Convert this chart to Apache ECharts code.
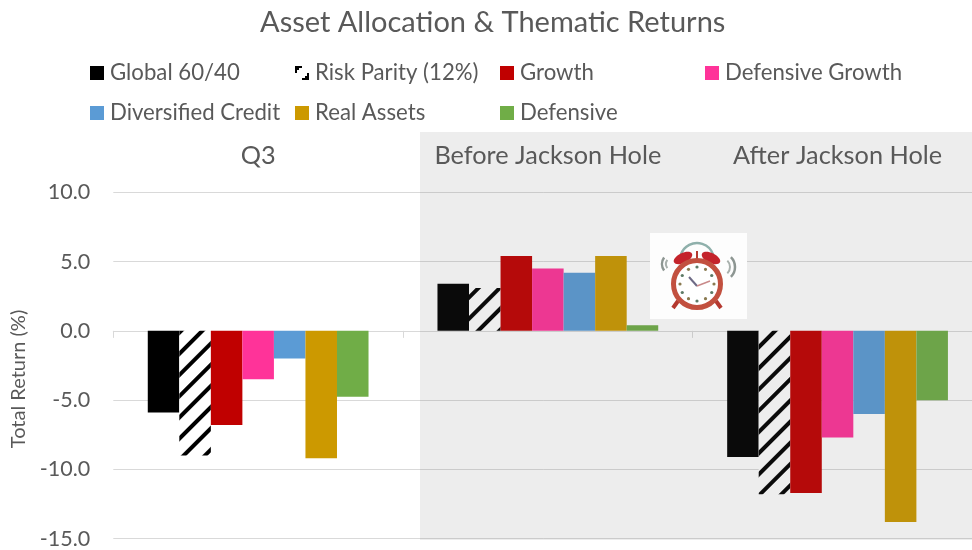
<!DOCTYPE html>
<html>
<head>
<meta charset="utf-8">
<style>html,body{margin:0;padding:0;background:#fff}#c{width:972px;height:550px}</style>
<script src="https://cdn.jsdelivr.net/npm/echarts@6/dist/echarts.min.js"></script>
</head>
<body>
<div id="c"></div>
<script>
const titleText = 'Asset Allocation & Thematic Returns';
const categories = ['Q3', 'Before Jackson Hole', 'After Jackson Hole'];
const yTicks = { min: -15, max: 10, interval: 5 };
const global6040 = [-5.9, 3.4, -9.1];
const riskParity = [-9.0, 3.1, -11.8];
const growth = [-6.8, 5.4, -11.7];
const defensiveGrowth = [-3.5, 4.5, -7.7];
const diversifiedCredit = [-2.0, 4.2, -6.0];
const realAssets = [-9.2, 5.4, -13.8];
const defensive = [-4.75, 0.4, -5.0];

const FONT = 'Lato';
const TEXT = '#595959';
const GRID = '#d9d9d9';

const seriesDefs = [
  { name: 'Global 60/40', data: global6040, color: '#000000', col: 0, row: 0 },
  { name: 'Risk Parity (12%)', data: riskParity, color: '#ffffff', hatch: true, col: 1, row: 0 },
  { name: 'Growth', data: growth, color: '#c00000', col: 2, row: 0 },
  { name: 'Defensive Growth', data: defensiveGrowth, color: '#ff3399', col: 3, row: 0 },
  { name: 'Diversified Credit', data: diversifiedCredit, color: '#5b9bd5', col: 0, row: 1 },
  { name: 'Real Assets', data: realAssets, color: '#cc9900', col: 1, row: 1 },
  { name: 'Defensive', data: defensive, color: '#70ad47', col: 2, row: 1 }
];

const hatchDecal = {
  symbol: 'rect', symbolSize: 1, color: '#000000',
  dashArrayX: [[1, 0]], dashArrayY: [4, 11], rotation: -Math.PI / 4,
  maxTileWidth: 512, maxTileHeight: 512
};
const hatchIcon = 'path://M0 0H7V2H4V4H2V7H0ZM14 14H7V12H10V10H12V7H14Z';

const colX = [90, 295, 500, 705];
const rowY = [62, 102];

const legends = seriesDefs.map(s => ({
  left: colX[s.col], top: rowY[s.row], padding: 0,
  orient: 'horizontal', selectedMode: false,
  itemWidth: 14, itemHeight: 14, itemGap: 0,
  icon: 'rect',
  textStyle: { color: TEXT, fontFamily: FONT, fontSize: 22.2, padding: [0, 0, 0, 1] },
  data: [s.hatch ? { name: s.name, icon: hatchIcon, itemStyle: { color: '#000000', decal: 'none' } } : { name: s.name }]
}));

const clock = {
  type: 'group', x: 697, y: 284, z: 60,
  children: [
    { type: 'rect', shape: { x: -47, y: -51, width: 97, height: 86 }, style: { fill: '#fdfdfd' }, z: 60 },
    { type: 'arc', shape: { cx: 0, cy: -24, r: 17, startAngle: Math.PI * 1.1, endAngle: Math.PI * 1.9 }, style: { stroke: '#8fb0ab', lineWidth: 2.5, fill: null }, z: 61 },
    { type: 'line', shape: { x1: -19, y1: 17, x2: -24, y2: 24 }, style: { stroke: '#b5382f', lineWidth: 4 }, z: 61 },
    { type: 'line', shape: { x1: 19, y1: 17, x2: 24, y2: 24 }, style: { stroke: '#b5382f', lineWidth: 4 }, z: 61 },
    { type: 'ellipse', shape: { cx: -14, cy: -26, rx: 10, ry: 5 }, rotation: 0.45, originX: -14, originY: -26, style: { fill: '#c4232b' }, z: 61 },
    { type: 'ellipse', shape: { cx: 14, cy: -26, rx: 10, ry: 5 }, rotation: -0.45, originX: 14, originY: -26, style: { fill: '#c4232b' }, z: 61 },
    { type: 'line', shape: { x1: 0, y1: -33, x2: 0, y2: -24 }, style: { stroke: '#b5382f', lineWidth: 2 }, z: 61 },
    { type: 'circle', shape: { cx: 0, cy: 0, r: 23.5 }, style: { fill: '#ffffff', stroke: '#c2503f', lineWidth: 5 }, z: 62 },
    ...[0,1,2,3,4,5,6,7,8,9,10,11].map(i => ({
      type: 'circle',
      shape: { cx: 17 * Math.sin(i * Math.PI / 6), cy: -17 * Math.cos(i * Math.PI / 6), r: 1.6 },
      style: { fill: i % 2 ? '#8a7a50' : '#5d7a66' }, z: 63
    })),
    { type: 'line', shape: { x1: 0, y1: 2, x2: -8, y2: -7 }, style: { stroke: '#6d6a85', lineWidth: 2 }, z: 64 },
    { type: 'line', shape: { x1: 0, y1: 2, x2: 13, y2: -3 }, style: { stroke: '#c98a8a', lineWidth: 1.5 }, z: 64 },
    { type: 'arc', shape: { cx: -24, cy: -20, r: 11, startAngle: Math.PI * 0.8, endAngle: Math.PI * 1.2 }, style: { stroke: '#8d9692', lineWidth: 2.5, fill: null }, z: 61 },
    { type: 'arc', shape: { cx: -24, cy: -20, r: 7, startAngle: Math.PI * 0.8, endAngle: Math.PI * 1.2 }, style: { stroke: '#a8b0ac', lineWidth: 2, fill: null }, z: 61 },
    { type: 'arc', shape: { cx: 24, cy: -17, r: 14, startAngle: -Math.PI * 0.25, endAngle: Math.PI * 0.25 }, style: { stroke: '#8d9692', lineWidth: 2.5, fill: null }, z: 61 },
    { type: 'arc', shape: { cx: 24, cy: -17, r: 9, startAngle: -Math.PI * 0.25, endAngle: Math.PI * 0.25 }, style: { stroke: '#a8b0ac', lineWidth: 2, fill: null }, z: 61 }
  ]
};

const option = {
  animation: false,
  backgroundColor: '#ffffff',
  title: {
    text: titleText, left: 260, top: 8, padding: 0,
    textStyle: { color: TEXT, fontFamily: FONT, fontSize: 29, fontWeight: 'normal' }
  },
  legend: legends,
  grid: { left: 113.3, right: -10.4, top: 192.3, bottom: 11.3, containLabel: false, outerBoundsMode: 'none' },
  xAxis: [
    {
      type: 'category', data: categories, position: 'bottom',
      axisLine: { onZero: true, lineStyle: { color: GRID, width: 1 } },
      axisTick: { show: true, length: 7, lineStyle: { color: GRID } },
      axisLabel: { show: false }, splitLine: { show: false }
    },
    {
      type: 'category', data: categories, position: 'top',
      axisLine: { show: false }, axisTick: { show: false }, splitLine: { show: false },
      axisLabel: { show: true, interval: 0, margin: 24, color: TEXT, fontFamily: FONT, fontSize: 25.3 }
    }
  ],
  yAxis: {
    type: 'value', min: yTicks.min, max: yTicks.max, interval: yTicks.interval,
    name: 'Total Return (%)', nameLocation: 'middle', nameGap: 76,
    nameTextStyle: { color: TEXT, fontFamily: FONT, fontSize: 20, padding: [0, 27, 0, 0] },
    axisLine: { show: false }, axisTick: { show: false },
    axisLabel: { margin: 23, color: TEXT, fontFamily: FONT, fontSize: 21.5, formatter: v => v.toFixed(1) },
    splitLine: { show: true, lineStyle: { color: GRID, width: 1 } }
  },
  series: seriesDefs.map(s => ({
    type: 'bar', name: s.name, data: s.data, xAxisIndex: 0,
    barGap: 0, barCategoryGap: '23.8%',
    itemStyle: s.hatch ? { color: s.color, decal: hatchDecal } : { color: s.color }
  })),
  graphic: [
    { type: 'rect', z: 50, shape: { x: 420, y: 132, width: 552, height: 408 }, style: { fill: 'rgba(91,91,91,0.11)' }, silent: true },
    clock
  ]
};

const chart = echarts.init(document.getElementById('c'), null, { renderer: 'canvas' });
chart.setOption(option);
</script>
</body>
</html>
